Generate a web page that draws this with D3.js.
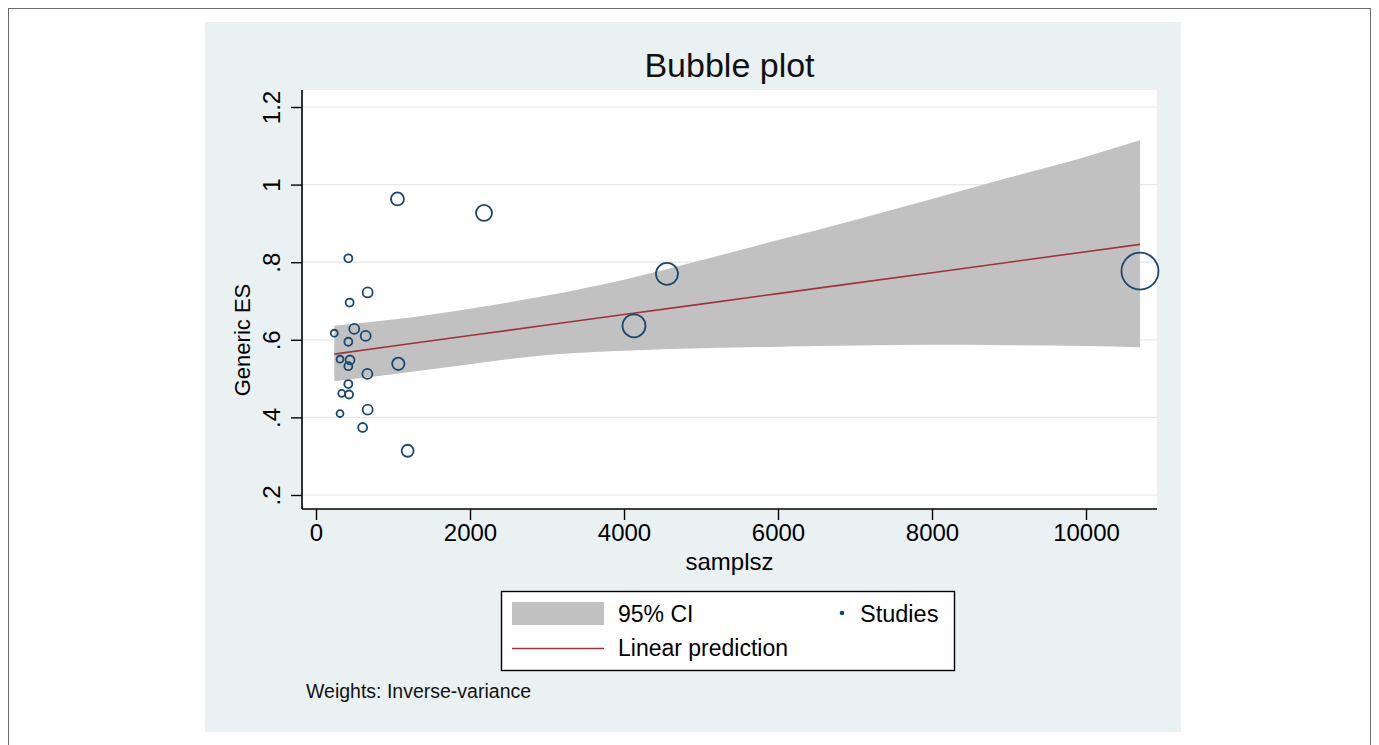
<!DOCTYPE html>
<html>
<head>
<meta charset="utf-8">
<script src="https://cdnjs.cloudflare.com/ajax/libs/d3/7.8.5/d3.min.js"></script>
<style>
  html, body { margin: 0; padding: 0; background: #ffffff; }
  svg { display: block; font-family: "Liberation Sans", Arial, Helvetica, sans-serif; }
</style>
</head>
<body>
<svg id="chart" width="1379" height="745"></svg>
<script>
// Study-level data: sample size, effect size and inverse-variance weight
const samplsz = [420, 671, 437, 238, 497, 645, 420, 312, 442, 420, 1069, 667,
                 420, 334, 429, 312, 671, 606, 1190, 1058, 2182, 4558, 4130, 10701];
const genericES = [0.810, 0.722, 0.696, 0.617, 0.628, 0.610, 0.595, 0.550, 0.548, 0.532, 0.538, 0.512,
                   0.486, 0.462, 0.459, 0.410, 0.420, 0.374, 0.314, 0.963, 0.927, 0.770, 0.636, 0.777];
const weights = [16, 25, 16, 12, 25, 25, 16, 12, 20, 16, 38, 25,
                 16, 12, 16, 12, 25, 20, 36, 42, 64, 121, 132, 342];

// Fitted line and 95% confidence band
const fitX     = [238, 1000, 2000, 3000, 4000, 5000, 6000, 7000, 8000, 9000, 10000, 10701];
const fitY     = [0.563, 0.584, 0.611, 0.638, 0.665, 0.692, 0.719, 0.746, 0.773, 0.800, 0.827, 0.846];
const ciUpper  = [0.636, 0.652, 0.680, 0.714, 0.755, 0.805, 0.857, 0.909, 0.963, 1.018, 1.072, 1.114];
const ciLower  = [0.493, 0.511, 0.537, 0.561, 0.572, 0.578, 0.582, 0.585, 0.587, 0.586, 0.584, 0.581];

// Axis ticks
const xTicks = [0, 2000, 4000, 6000, 8000, 10000];
const xTickLabels = ["0", "2000", "4000", "6000", "8000", "10000"];
const yTicks = [0.2, 0.4, 0.6, 0.8, 1.0, 1.2];
const yTickLabels = [".2", ".4", ".6", ".8", "1", "1.2"];

const svg = d3.select("#chart");
const navy = "#1a476f";
const maroon = "#a3303b";

// Outer frame and graph region
svg.append("rect").attr("x", 8.5).attr("y", 8.5).attr("width", 1362).attr("height", 750)
  .attr("fill", "#ffffff").attr("stroke", "#6b6b6b").attr("stroke-width", 1);
svg.append("rect").attr("x", 205).attr("y", 22).attr("width", 976).attr("height", 710)
  .attr("fill", "#eaf1f3");

// Plot region
const plot = { left: 302, right: 1157, top: 90, bottom: 509 };
svg.append("rect").attr("x", plot.left).attr("y", plot.top)
  .attr("width", plot.right - plot.left).attr("height", plot.bottom - plot.top)
  .attr("fill", "#ffffff");

const x = d3.scaleLinear().domain([0, 10000]).range([316, 1086]);
const y = d3.scaleLinear().domain([0.2, 1.2]).range([495, 107]);
const r = d3.scaleSqrt().domain([0, 342]).range([0, 18.5]);

// Grid lines
svg.append("g").selectAll("line").data(yTicks).join("line")
  .attr("x1", plot.left).attr("x2", plot.right)
  .attr("y1", d => y(d)).attr("y2", d => y(d))
  .attr("stroke", "#e3e8ea").attr("stroke-width", 1.2);

// Confidence band
const band = fitX.map((v, i) => ({ x: v, lo: ciLower[i], hi: ciUpper[i], fit: fitY[i] }));
svg.append("path").datum(band)
  .attr("d", d3.area().curve(d3.curveMonotoneX)
    .x(d => x(d.x)).y0(d => y(d.lo)).y1(d => y(d.hi)))
  .attr("fill", "#c1c1c1");

// Linear prediction
svg.append("path").datum(band)
  .attr("d", d3.line().x(d => x(d.x)).y(d => y(d.fit)))
  .attr("fill", "none").attr("stroke", maroon).attr("stroke-width", 1.6);

// Study bubbles
const studies = samplsz.map((v, i) => ({ n: v, es: genericES[i], w: weights[i] }));
svg.append("g").selectAll("circle").data(studies).join("circle")
  .attr("cx", d => x(d.n)).attr("cy", d => y(d.es)).attr("r", d => r(d.w))
  .attr("fill", "none").attr("stroke", navy).attr("stroke-width", 1.8);

// Axes
const xAxis = d3.axisBottom(x).tickValues(xTicks).tickSize(11).tickPadding(4)
  .tickFormat((d, i) => xTickLabels[i]);
const gx = svg.append("g").attr("transform", `translate(0,${plot.bottom})`).call(xAxis);
gx.select(".domain").remove();
gx.selectAll("line").attr("stroke", "#000").attr("stroke-width", 1.4);
gx.selectAll("text").attr("fill", "#000").attr("font-size", 24)
  .attr("font-family", "Liberation Sans, Arial, sans-serif");

const yAxis = d3.axisLeft(y).tickValues(yTicks).tickSize(11)
  .tickFormat((d, i) => yTickLabels[i]);
const gy = svg.append("g").attr("transform", `translate(${plot.left},0)`).call(yAxis);
gy.select(".domain").remove();
gy.selectAll("line").attr("stroke", "#000").attr("stroke-width", 1.4);
gy.selectAll("text").attr("fill", "#000").attr("font-size", 24)
  .attr("font-family", "Liberation Sans, Arial, sans-serif")
  .attr("transform", "rotate(-90)")
  .attr("x", 0).attr("y", -22).attr("dy", 0)
  .attr("text-anchor", "middle");

svg.append("line").attr("x1", plot.left).attr("x2", plot.right)
  .attr("y1", plot.bottom).attr("y2", plot.bottom)
  .attr("stroke", "#000").attr("stroke-width", 1.6);
svg.append("line").attr("x1", plot.left).attr("x2", plot.left)
  .attr("y1", plot.top).attr("y2", plot.bottom)
  .attr("stroke", "#000").attr("stroke-width", 1.6);

// Titles
svg.append("text").attr("x", 729.5).attr("y", 77).attr("text-anchor", "middle")
  .attr("font-size", 34).attr("fill", "#111").text("Bubble plot");
svg.append("text").attr("x", 729.5).attr("y", 570).attr("text-anchor", "middle")
  .attr("font-size", 24).attr("fill", "#000").text("samplsz");
svg.append("text").attr("transform", "translate(250,340) rotate(-90)")
  .attr("text-anchor", "middle").attr("font-size", 22).attr("fill", "#000").text("Generic ES");

// Legend
const lg = svg.append("g");
lg.append("rect").attr("x", 501.5).attr("y", 591.5).attr("width", 453).attr("height", 79)
  .attr("fill", "#ffffff").attr("stroke", "#000").attr("stroke-width", 1.4);
lg.append("rect").attr("x", 512).attr("y", 602).attr("width", 92).attr("height", 23)
  .attr("fill", "#c1c1c1");
lg.append("text").attr("x", 618).attr("y", 622).attr("font-size", 23).attr("fill", "#000").text("95% CI");
lg.append("circle").attr("cx", 842).attr("cy", 613).attr("r", 2.3).attr("fill", navy);
lg.append("text").attr("x", 860).attr("y", 622).attr("font-size", 23.5).attr("fill", "#000").text("Studies");
lg.append("line").attr("x1", 512).attr("x2", 604).attr("y1", 648.5).attr("y2", 648.5)
  .attr("stroke", maroon).attr("stroke-width", 1.6);
lg.append("text").attr("x", 618).attr("y", 656).attr("font-size", 23).attr("fill", "#000").text("Linear prediction");

// Note
svg.append("text").attr("x", 306).attr("y", 698).attr("font-size", 19.5).attr("fill", "#111")
  .text("Weights: Inverse-variance");
</script>
</body>
</html>
